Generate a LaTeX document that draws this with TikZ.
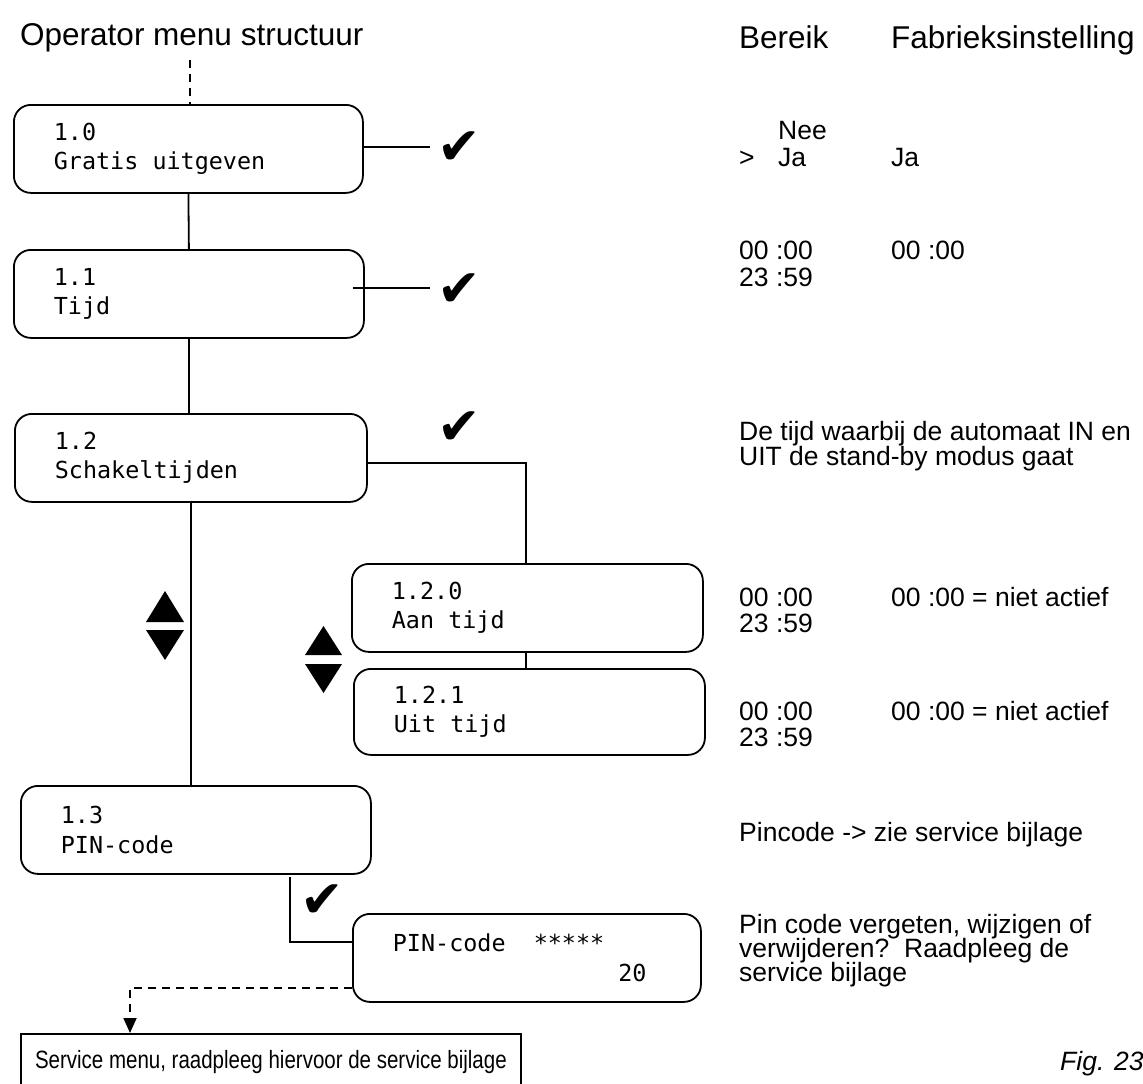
\documentclass[tikz,border=0pt]{standalone}
\usepackage{fontspec}
\setmainfont{Liberation Sans}
\newfontfamily\lcdfont{DejaVu Sans Mono}
\newfontfamily\dingfont{DejaVu Sans}
\newfontfamily\condfont{Liberation Sans}[FakeStretch=0.82]
\newcommand\lsp{\phantom{0}}
\usetikzlibrary{arrows.meta}
\begin{document}
\begin{tikzpicture}[x=1pt,y=-1pt,
  lcdbox/.style={draw, line width=1.8pt, rounded corners=17pt, anchor=north west, inner sep=0pt,
    minimum height=88pt, align=left, font=\lcdfont\fontsize{23.4}{29.5}\selectfont},
  conn/.style={line width=1.8pt},
  dashconn/.style={line width=1.8pt, dash pattern=on 8pt off 6pt},
  info/.style={anchor=base west, inner sep=0pt, font=\fontsize{26.5}{30}\selectfont},
  head/.style={anchor=base west, inner sep=0pt, font=\fontsize{31.5}{36}\selectfont},
  tick/.style={inner sep=0pt, font=\dingfont\fontsize{52}{52}\selectfont},
  tri/.style={fill=black},
]
\useasboundingbox (0,0) rectangle (1143,1084);

% headings
\node[head] (title) at (20,45) {Operator menu structuur};
\node[head] (hbereik) at (739,48) {Bereik};
\node[head] (hfab) at (891,48) {Fabrieksinstelling};

% LCD boxes
\node[lcdbox, minimum width=349pt, text width=269pt] (b10) at (13,104) {1.0\\Gratis\lsp uitgeven};
\node[lcdbox, minimum width=350pt, text width=270pt] (b11) at (13,249) {1.1\\Tijd};
\node[lcdbox, minimum width=352pt, text width=272pt] (b12) at (14,413) {1.2\\Schakeltijden};
\node[lcdbox, minimum width=351pt, text width=271pt] (b120) at (351,563) {1.2.0\\Aan\lsp tijd};
\node[lcdbox, minimum width=351pt, minimum height=86pt, text width=271pt] (b121) at (353,668) {1.2.1\\Uit\lsp tijd};
\node[lcdbox, minimum width=350pt, text width=270pt] (b13) at (20,785) {1.3\\PIN-code};
\node[lcdbox, minimum width=348pt, text width=268pt] (pin) at (352,913) {PIN-code\lsp\lsp *****\\\phantom{0000000000000000}20};

% service box
\node[draw, line width=1.8pt, anchor=north west, minimum width=500pt, minimum height=56pt,
  inner sep=0pt, font=\condfont\fontsize{25}{29}\selectfont] (svc) at (20,1033)
  {Service menu, raadpleeg hiervoor de service bijlage};

% check marks
\node[tick] (c1) at (459,148) {✔};
\node[tick] (c2) at (459,290) {✔};
\node[tick] (c3) at (459,428) {✔};
\node[tick] (c4) at (322,901) {✔};

% coordinates
\coordinate (top) at (190,60);
\coordinate (t1) at (430,147);
\coordinate (t2a) at (353,288);
\coordinate (t2) at (430,288);
\coordinate (k3) at (526,463);
\coordinate (k4a) at (290,877);
\coordinate (k4) at (290,942);
\coordinate (k5) at (130,988);

% connectors
\draw[dashconn] (top) -- (top |- b10.north);
\draw[conn] (b10.east |- t1) -- (t1);
\draw[conn] (b10.south) -- (b11.north);
\draw[conn] (t2a) -- (t2);
\draw[conn] (b11.south) -- (b11.south |- b12.north);
\draw[conn] (b12.east |- k3) -- (k3) -- (k3 |- b120.north);
\draw[conn] (k3 |- b120.south) -- (k3 |- b121.north);
\draw[conn] (b12.south) -- (b12.south |- b13.north);
\draw[conn] (k4a) -- (k4) -- (k4 -| pin.west);
\draw[dashconn, -{Triangle[width=13pt,length=15pt]}] (pin.west |- k5) -- (k5) -- (k5 |- svc.north);

% up/down arrows
\fill[tri] (146,622) -- (184,622) -- (165,591) -- cycle;
\fill[tri] (146,630) -- (184,630) -- (165,660) -- cycle;
\fill[tri] (305,655) -- (342,655) -- (323.5,626) -- cycle;
\fill[tri] (305,664) -- (342,664) -- (323.5,693) -- cycle;

% right column texts
\node[info] (nee) at (778,139) {Nee};
\node[info] (gt) at (739,166) {>};
\node[info] (ja) at (778,166) {Ja};
\node[info] (jaf) at (891,166) {Ja};

\node[info] (r1a) at (739,259) {00 :00};
\node[info] (r1b) at (739,286) {23 :59};
\node[info] (r1f) at (891,259) {00 :00};

\node[info] (d1) at (739,440) {De tijd waarbij de automaat IN en};
\node[info] (d2) at (739,465) {UIT de stand-by modus gaat};

\node[info] (r2a) at (739,606) {00 :00};
\node[info] (r2b) at (739,632) {23 :59};
\node[info] (r2f) at (891,606) {00 :00 = niet actief};

\node[info] (r3a) at (739,720) {00 :00};
\node[info] (r3b) at (739,746) {23 :59};
\node[info] (r3f) at (891,720) {00 :00 = niet actief};

\node[info] (pc) at (739,841) {Pincode -> zie service bijlage};

\node[info] (p1) at (739,933) {Pin code vergeten, wijzigen of};
\node[info] (p2) at (739,957) {verwijderen?\ \ Raadpleeg de};
\node[info] (p3) at (739,981) {service bijlage};

\node[info, font=\fontsize{26.5}{30}\selectfont\itshape] (fig) at (1060,1070) {Fig. 23};
\end{tikzpicture}
\end{document}
